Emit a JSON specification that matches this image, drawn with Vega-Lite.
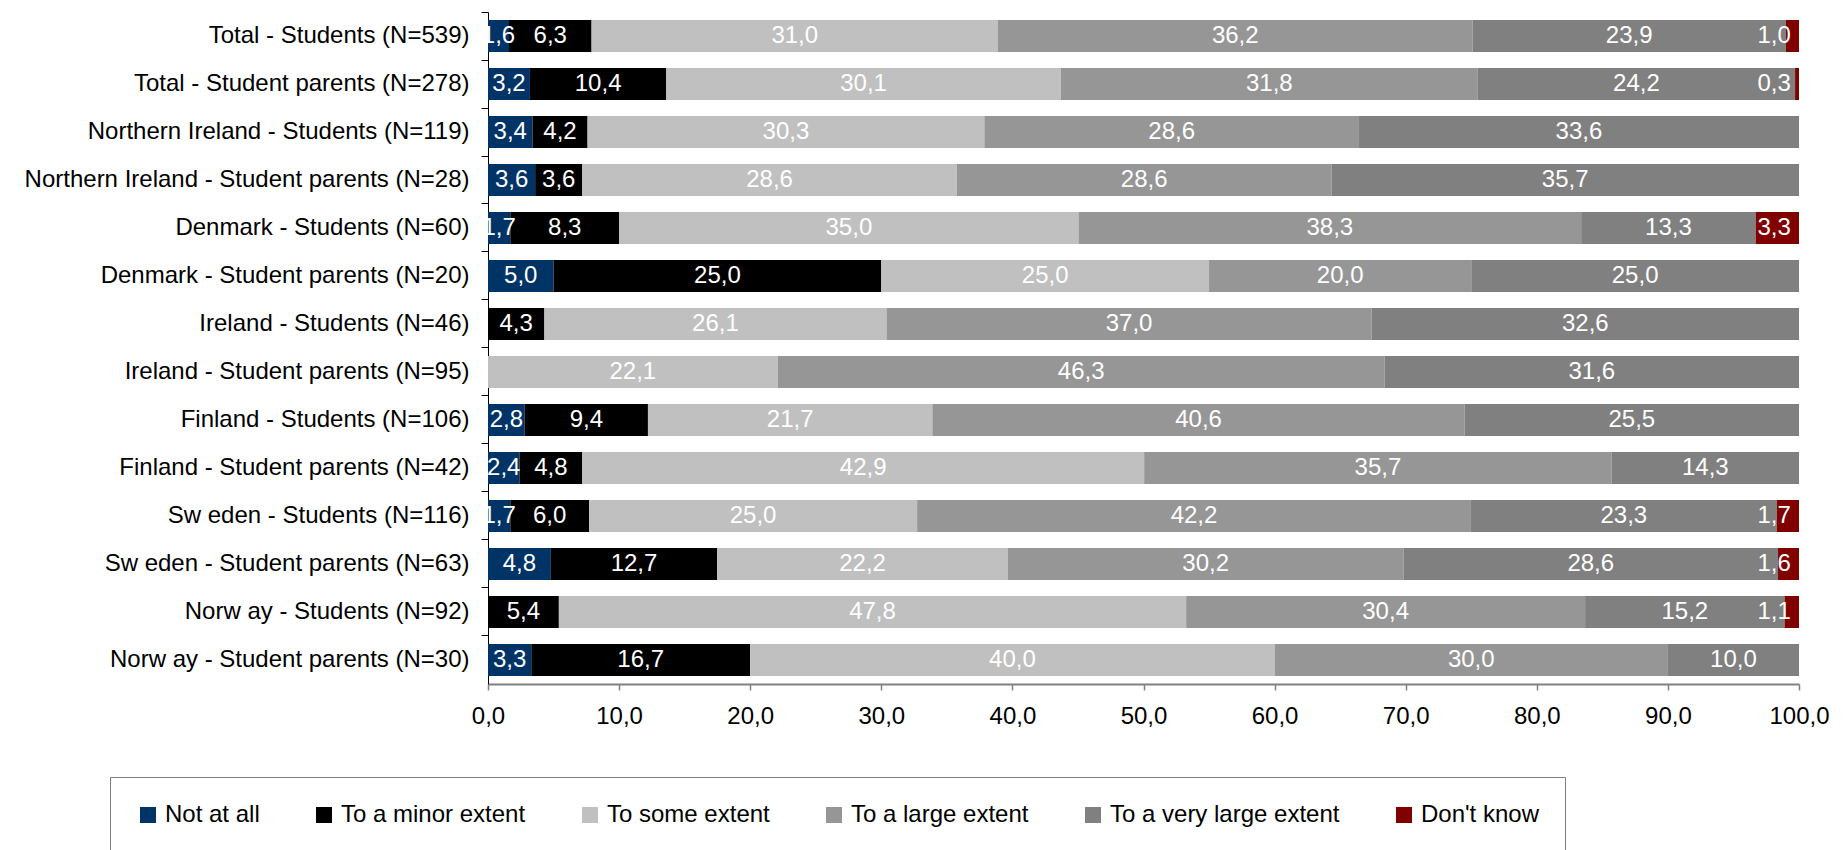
{
  "$schema": "https://vega.github.io/schema/vega-lite/v6.json",
  "width": 1311,
  "height": 672,
  "autosize": "none",
  "padding": {"left": 488, "top": 12, "right": 49, "bottom": 166},
  "config": {
    "view": {"stroke": null},
    "font": "Liberation Sans",
    "locale": {"number": {"decimal": ",", "thousands": ".", "grouping": [3], "currency": ["", " €"]}}
  },
  "data": {
    "values": [
      {"group": "Total - Students (N=539)", "response": "Not at all", "pct": 1.6},
      {"group": "Total - Students (N=539)", "response": "To a minor extent", "pct": 6.3},
      {"group": "Total - Students (N=539)", "response": "To some extent", "pct": 31.0},
      {"group": "Total - Students (N=539)", "response": "To a large extent", "pct": 36.2},
      {"group": "Total - Students (N=539)", "response": "To a very large extent", "pct": 23.9},
      {"group": "Total - Students (N=539)", "response": "Don't know", "pct": 1.0},
      {"group": "Total - Student parents (N=278)", "response": "Not at all", "pct": 3.2},
      {"group": "Total - Student parents (N=278)", "response": "To a minor extent", "pct": 10.4},
      {"group": "Total - Student parents (N=278)", "response": "To some extent", "pct": 30.1},
      {"group": "Total - Student parents (N=278)", "response": "To a large extent", "pct": 31.8},
      {"group": "Total - Student parents (N=278)", "response": "To a very large extent", "pct": 24.2},
      {"group": "Total - Student parents (N=278)", "response": "Don't know", "pct": 0.3},
      {"group": "Northern Ireland - Students (N=119)", "response": "Not at all", "pct": 3.4},
      {"group": "Northern Ireland - Students (N=119)", "response": "To a minor extent", "pct": 4.2},
      {"group": "Northern Ireland - Students (N=119)", "response": "To some extent", "pct": 30.3},
      {"group": "Northern Ireland - Students (N=119)", "response": "To a large extent", "pct": 28.6},
      {"group": "Northern Ireland - Students (N=119)", "response": "To a very large extent", "pct": 33.6},
      {"group": "Northern Ireland - Student parents (N=28)", "response": "Not at all", "pct": 3.6},
      {"group": "Northern Ireland - Student parents (N=28)", "response": "To a minor extent", "pct": 3.6},
      {"group": "Northern Ireland - Student parents (N=28)", "response": "To some extent", "pct": 28.6},
      {"group": "Northern Ireland - Student parents (N=28)", "response": "To a large extent", "pct": 28.6},
      {"group": "Northern Ireland - Student parents (N=28)", "response": "To a very large extent", "pct": 35.7},
      {"group": "Denmark - Students (N=60)", "response": "Not at all", "pct": 1.7},
      {"group": "Denmark - Students (N=60)", "response": "To a minor extent", "pct": 8.3},
      {"group": "Denmark - Students (N=60)", "response": "To some extent", "pct": 35.0},
      {"group": "Denmark - Students (N=60)", "response": "To a large extent", "pct": 38.3},
      {"group": "Denmark - Students (N=60)", "response": "To a very large extent", "pct": 13.3},
      {"group": "Denmark - Students (N=60)", "response": "Don't know", "pct": 3.3},
      {"group": "Denmark - Student parents (N=20)", "response": "Not at all", "pct": 5.0},
      {"group": "Denmark - Student parents (N=20)", "response": "To a minor extent", "pct": 25.0},
      {"group": "Denmark - Student parents (N=20)", "response": "To some extent", "pct": 25.0},
      {"group": "Denmark - Student parents (N=20)", "response": "To a large extent", "pct": 20.0},
      {"group": "Denmark - Student parents (N=20)", "response": "To a very large extent", "pct": 25.0},
      {"group": "Ireland - Students (N=46)", "response": "To a minor extent", "pct": 4.3},
      {"group": "Ireland - Students (N=46)", "response": "To some extent", "pct": 26.1},
      {"group": "Ireland - Students (N=46)", "response": "To a large extent", "pct": 37.0},
      {"group": "Ireland - Students (N=46)", "response": "To a very large extent", "pct": 32.6},
      {"group": "Ireland - Student parents (N=95)", "response": "To some extent", "pct": 22.1},
      {"group": "Ireland - Student parents (N=95)", "response": "To a large extent", "pct": 46.3},
      {"group": "Ireland - Student parents (N=95)", "response": "To a very large extent", "pct": 31.6},
      {"group": "Finland - Students (N=106)", "response": "Not at all", "pct": 2.8},
      {"group": "Finland - Students (N=106)", "response": "To a minor extent", "pct": 9.4},
      {"group": "Finland - Students (N=106)", "response": "To some extent", "pct": 21.7},
      {"group": "Finland - Students (N=106)", "response": "To a large extent", "pct": 40.6},
      {"group": "Finland - Students (N=106)", "response": "To a very large extent", "pct": 25.5},
      {"group": "Finland - Student parents (N=42)", "response": "Not at all", "pct": 2.4},
      {"group": "Finland - Student parents (N=42)", "response": "To a minor extent", "pct": 4.8},
      {"group": "Finland - Student parents (N=42)", "response": "To some extent", "pct": 42.9},
      {"group": "Finland - Student parents (N=42)", "response": "To a large extent", "pct": 35.7},
      {"group": "Finland - Student parents (N=42)", "response": "To a very large extent", "pct": 14.3},
      {"group": "Sw eden - Students (N=116)", "response": "Not at all", "pct": 1.7},
      {"group": "Sw eden - Students (N=116)", "response": "To a minor extent", "pct": 6.0},
      {"group": "Sw eden - Students (N=116)", "response": "To some extent", "pct": 25.0},
      {"group": "Sw eden - Students (N=116)", "response": "To a large extent", "pct": 42.2},
      {"group": "Sw eden - Students (N=116)", "response": "To a very large extent", "pct": 23.3},
      {"group": "Sw eden - Students (N=116)", "response": "Don't know", "pct": 1.7},
      {"group": "Sw eden - Student parents (N=63)", "response": "Not at all", "pct": 4.8},
      {"group": "Sw eden - Student parents (N=63)", "response": "To a minor extent", "pct": 12.7},
      {"group": "Sw eden - Student parents (N=63)", "response": "To some extent", "pct": 22.2},
      {"group": "Sw eden - Student parents (N=63)", "response": "To a large extent", "pct": 30.2},
      {"group": "Sw eden - Student parents (N=63)", "response": "To a very large extent", "pct": 28.6},
      {"group": "Sw eden - Student parents (N=63)", "response": "Don't know", "pct": 1.6},
      {"group": "Norw ay - Students (N=92)", "response": "To a minor extent", "pct": 5.4},
      {"group": "Norw ay - Students (N=92)", "response": "To some extent", "pct": 47.8},
      {"group": "Norw ay - Students (N=92)", "response": "To a large extent", "pct": 30.4},
      {"group": "Norw ay - Students (N=92)", "response": "To a very large extent", "pct": 15.2},
      {"group": "Norw ay - Students (N=92)", "response": "Don't know", "pct": 1.1},
      {"group": "Norw ay - Student parents (N=30)", "response": "Not at all", "pct": 3.3},
      {"group": "Norw ay - Student parents (N=30)", "response": "To a minor extent", "pct": 16.7},
      {"group": "Norw ay - Student parents (N=30)", "response": "To some extent", "pct": 40.0},
      {"group": "Norw ay - Student parents (N=30)", "response": "To a large extent", "pct": 30.0},
      {"group": "Norw ay - Student parents (N=30)", "response": "To a very large extent", "pct": 10.0}
    ]
  },
  "transform": [
    {"calculate": "indexof(['Not at all', 'To a minor extent', 'To some extent', 'To a large extent', 'To a very large extent', \"Don't know\"], datum.response)", "as": "ord"},
    {"stack": "pct", "groupby": ["group"], "sort": [{"field": "ord", "order": "ascending"}], "as": ["x0", "x1"], "offset": "normalize"},
    {"calculate": "min((datum.x0 + datum.x1) / 2, 0.981)", "as": "mid"},
    {"calculate": "replace(format(datum.pct, '.1f'), '.', ',')", "as": "lab"}
  ],
  "layer": [
    {
      "mark": {"type": "bar"},
      "encoding": {
        "y": {
          "field": "group", "type": "nominal", "title": null,
          "sort": ["Total - Students (N=539)", "Total - Student parents (N=278)", "Northern Ireland - Students (N=119)", "Northern Ireland - Student parents (N=28)", "Denmark - Students (N=60)", "Denmark - Student parents (N=20)", "Ireland - Students (N=46)", "Ireland - Student parents (N=95)", "Finland - Students (N=106)", "Finland - Student parents (N=42)", "Sw eden - Students (N=116)", "Sw eden - Student parents (N=63)", "Norw ay - Students (N=92)", "Norw ay - Student parents (N=30)"],
          "scale": {"paddingInner": 0.333, "paddingOuter": 0.167},
          "axis": {"orient": "left", "ticks": false, "labelFontSize": 24, "labelColor": "#000000", "labelPadding": 19, "labelLimit": 600, "domainColor": "#000000", "domainWidth": 1}
        },
        "x": {
          "field": "x0", "type": "quantitative", "title": null,
          "scale": {"domain": [0, 1], "nice": false},
          "axis": {"values": [0, 0.1, 0.2, 0.3, 0.4, 0.5, 0.6, 0.7, 0.8, 0.9, 1], "labelExpr": "replace(format(datum.value * 100, '.1f'), '.', ',')", "labelFontSize": 24, "labelColor": "#000000", "labelPadding": 14, "labelFlush": false, "domainColor": "#808080", "domainWidth": 2, "tickColor": "#808080", "tickWidth": 1.5, "tickSize": 6, "grid": false}
        },
        "x2": {"field": "x1"},
        "color": {
          "field": "response", "type": "nominal",
          "scale": {"domain": ["Not at all", "To a minor extent", "To some extent", "To a large extent", "To a very large extent", "Don't know"], "range": ["#003366", "#000000", "#C0C0C0", "#969696", "#808080", "#800000"]},
          "legend": {"orient": "none", "legendX": -378, "legendY": 765, "direction": "horizontal", "columns": 6, "title": null, "symbolType": "square", "symbolSize": 256, "symbolStrokeWidth": 0, "labelFontSize": 24, "labelColor": "#000000", "labelOffset": 5, "columnPadding": 52, "padding": 26, "strokeColor": "#808080", "labelLimit": 400}
        }
      }
    },
    {
      "mark": {"type": "text", "color": "#ffffff", "fontSize": 24, "baseline": "middle", "align": "center", "clip": true},
      "encoding": {
        "y": {
          "field": "group", "type": "nominal", "title": null,
          "sort": ["Total - Students (N=539)", "Total - Student parents (N=278)", "Northern Ireland - Students (N=119)", "Northern Ireland - Student parents (N=28)", "Denmark - Students (N=60)", "Denmark - Student parents (N=20)", "Ireland - Students (N=46)", "Ireland - Student parents (N=95)", "Finland - Students (N=106)", "Finland - Student parents (N=42)", "Sw eden - Students (N=116)", "Sw eden - Student parents (N=63)", "Norw ay - Students (N=92)", "Norw ay - Student parents (N=30)"],
          "axis": {"orient": "left", "labels": false, "domain": false, "ticks": true, "tickSize": 7, "tickColor": "#000000", "bandPosition": -0.25}
        },
        "x": {"field": "mid", "type": "quantitative", "title": null},
        "text": {"field": "lab"}
      }
    }
  ],
  "resolve": {"axis": {"y": "independent"}}
}
